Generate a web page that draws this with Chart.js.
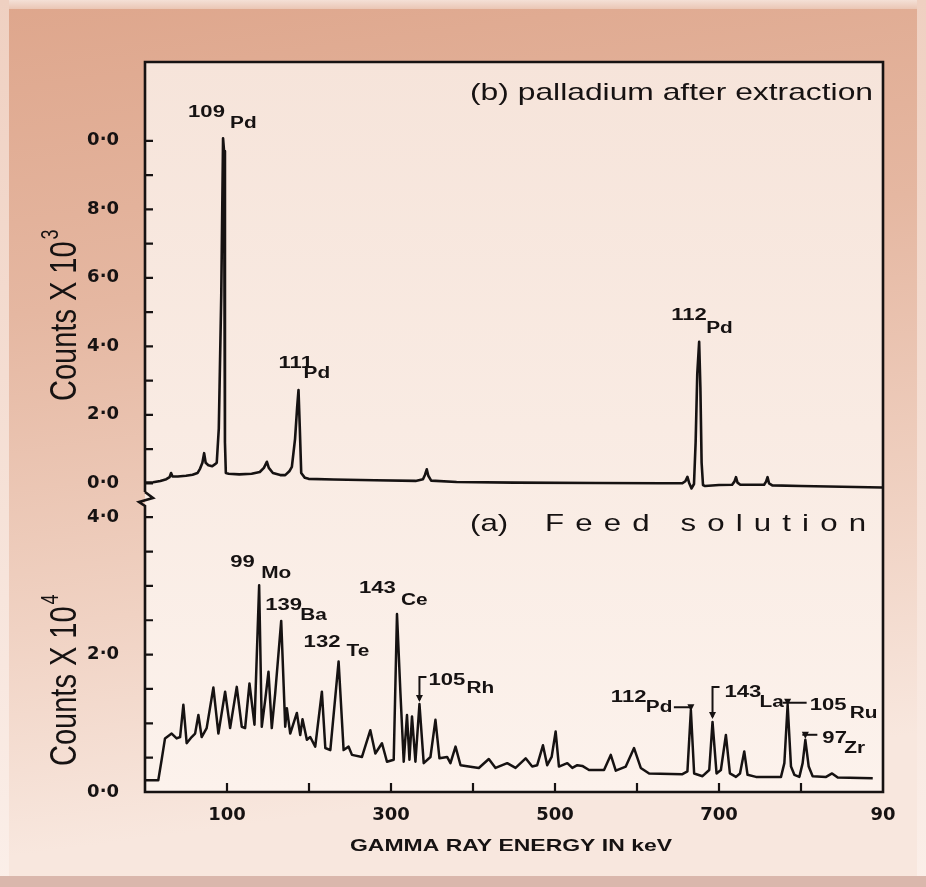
<!DOCTYPE html>
<html>
<head>
<meta charset="utf-8">
<script src="https://cdn.jsdelivr.net/npm/chart.js@4.4.1/dist/chart.umd.min.js"></script>
<style>
  html, body { margin: 0; padding: 0; background: #e8bfab; overflow: hidden; }
  #wrap { width: 926px; height: 887px; }
  canvas { display: block; }
</style>
</head>
<body>
<div id="wrap"><canvas id="c" width="926" height="887"></canvas></div>
<script>
// ---- Energy axis (keV) ----
const energyTickValues = [100, 300, 500, 700, 900];
const energyTickLabels = ['100', '300', '500', '700', '90'];
const energyMarkValues = [100, 200, 300, 400, 500, 600, 700, 800];

// ---- Count axes ----
const pdTickValues = [0, 2, 4, 6, 8, 10];
const pdTickLabels = ['0·0', '2·0', '4·0', '6·0', '8·0', '0·0'];
const pdMarkValues = [0, 1, 2, 3, 4, 5, 6, 7, 8, 9, 10];

const feedTickValues = [0, 2, 4];
const feedTickLabels = ['0·0', '2·0', '4·0'];
const feedMarkValues = [0, 0.5, 1, 1.5, 2, 2.5, 3, 3.5, 4];

// ---- (b) palladium after extraction: counts x 10^3 ----
const pdEnergy = [
  0, 10, 18.7, 26, 30, 31.8, 33.5, 40, 50, 58, 64, 67.2, 70, 72.1, 74, 77.3, 82, 85.5,
  87.5, 90, 93, 95.2, 96.4, 97.5, 98.6, 102, 115, 130, 140, 145, 148.6, 151, 156, 165,
  171, 176, 179.1, 183, 185.5, 187.2, 188.8, 190.5, 195, 199.5, 230, 280, 330, 339,
  341.5, 343.6, 345.5, 349, 380, 450, 550, 630, 655, 659, 661.5, 663.5, 666.5, 669.5,
  671.5, 673.5, 675.8, 677.3, 678.8, 680.5, 683, 700, 716, 718.8, 720.7, 722.6, 726,
  755, 757.4, 759.2, 761, 765, 800, 850, 899
];
const pdCounts = [
  0.02, 0.03, 0.07, 0.12, 0.18, 0.30, 0.20, 0.20, 0.22, 0.25, 0.30, 0.43, 0.60, 0.88, 0.60, 0.53, 0.50, 0.56,
  0.60, 1.6, 5.5, 10.07, 9.7, 1.2, 0.30, 0.28, 0.26, 0.28, 0.33, 0.45, 0.63, 0.45, 0.30, 0.24,
  0.24, 0.35, 0.48, 1.3, 2.2, 2.72, 1.6, 0.30, 0.16, 0.13, 0.11, 0.09, 0.07, 0.12,
  0.25, 0.41, 0.22, 0.08, 0.04, 0.02, 0.01, 0.0, 0.0, 0.06, 0.19, 0.02, -0.15, -0.02,
  1.2, 3.2, 4.13, 2.8, 0.6, -0.05, -0.08, -0.05, -0.04, 0.05, 0.18, 0.02, -0.04,
  -0.04, 0.05, 0.18, 0.0, -0.06, -0.08, -0.10, -0.12
];

// ---- (a) feed solution: counts x 10^4 ----
const feedEnergy = [
  0, 16.2, 20.3, 24.4, 32.5, 38.6, 42.8, 46.8, 50.8, 56.9, 61.1, 65.1, 69.1, 75.2, 83.4,
  89.5, 97.7, 103.8, 111.9, 118.0, 122.1, 127.4, 133.5, 139.2, 142.4, 146.6, 150.6, 154.6,
  158.8, 166.1, 171.0, 173.0, 177.1, 185.2, 189.3, 192.1, 197.4, 201.5, 207.6, 215.7,
  219.9, 226.0, 236.1, 242.2, 248.3, 252.4, 264.6, 274.8, 280.9, 289.0, 295.1, 303.3,
  307.3, 311.5, 315.5, 319.5, 322.5, 325.6, 329.8, 334.7, 339.9, 348.1, 354.2, 359.1,
  368.4, 372.5, 378.7, 384.8, 407.1, 419.3, 427.5, 441.7, 451.9, 464.2, 472.2, 478.3,
  485.3, 490.5, 495.9, 500.8, 504.8, 515.0, 521.1, 527.2, 533.3, 541.5, 559.8, 568.0,
  574.1, 586.3, 596.4, 604.6, 614.8, 655.4, 661.5, 665.7, 669.7, 679.9, 688.1, 692.1,
  697.0, 702.3, 708.4, 713.3, 720.7, 725.6, 730.8, 734.8, 745.1, 775.6, 779.7, 783.7,
  787.8, 791.9, 798.0, 802.0, 805.3, 809.4, 814.2, 830.6, 837.9, 844.8, 887.5
];
const feedCounts = [
  0.17, 0.17, 0.47, 0.78, 0.85, 0.78, 0.80, 1.27, 0.71, 0.80, 0.85, 1.12, 0.80, 0.93, 1.52,
  0.85, 1.46, 0.93, 1.53, 0.95, 0.93, 1.58, 0.98, 3.01, 0.95, 1.34, 1.75, 0.93,
  1.44, 2.49, 0.95, 1.22, 0.85, 1.15, 0.83, 1.06, 0.76, 0.80, 0.66, 1.46,
  0.64, 0.61, 1.90, 0.61, 0.66, 0.54, 0.51, 0.90, 0.56, 0.71, 0.44, 0.47,
  2.59, 1.44, 0.44, 1.12, 0.47, 1.10, 0.44, 1.28, 0.42, 0.51, 1.05, 0.49,
  0.51, 0.42, 0.66, 0.39, 0.35, 0.48, 0.35, 0.42, 0.35, 0.49, 0.37, 0.39,
  0.68, 0.39, 0.51, 0.88, 0.37, 0.42, 0.35, 0.39, 0.38, 0.32, 0.32, 0.54,
  0.31, 0.37, 0.64, 0.35, 0.27, 0.26, 0.30, 1.19, 0.27, 0.23, 0.32, 1.02,
  0.27, 0.32, 0.83, 0.27, 0.22, 0.27, 0.59, 0.25, 0.22, 0.22, 0.42, 1.27,
  0.37, 0.25, 0.22, 0.42, 0.76, 0.37, 0.23, 0.22, 0.27, 0.21, 0.20
];

// ---- Identified peaks ----
const peakLabels = [
  { series: 'pd',   energy: 95.2,  mass: '109', element: 'Pd' },
  { series: 'pd',   energy: 187.2, mass: '111', element: 'Pd' },
  { series: 'pd',   energy: 675.8, mass: '112', element: 'Pd' },
  { series: 'feed', energy: 139.2, mass: '99',  element: 'Mo' },
  { series: 'feed', energy: 166.1, mass: '139', element: 'Ba' },
  { series: 'feed', energy: 236.1, mass: '132', element: 'Te' },
  { series: 'feed', energy: 307.3, mass: '143', element: 'Ce' },
  { series: 'feed', energy: 334.7, mass: '105', element: 'Rh' },
  { series: 'feed', energy: 665.7, mass: '112', element: 'Pd' },
  { series: 'feed', energy: 692.1, mass: '143', element: 'La' },
  { series: 'feed', energy: 783.7, mass: '105', element: 'Ru' },
  { series: 'feed', energy: 805.3, mass: '97',  element: 'Zr' }
];

// Label placement relative to each peak top (px): mass number, element symbol,
// optional leader line and arrow tip.
const labelPlacement = [
  { mass: [-35, -21], el: [7, -10] },
  { mass: [-20, -22], el: [5, -12] },
  { mass: [-28, -22], el: [7, -9] },
  { mass: [-29, -18], el: [2, -7] },
  { mass: [-16, -11], el: [19, -1] },
  { mass: [-35, -14], el: [8, -5] },
  { mass: [-38, -21], el: [4, -9] },
  { mass: [9, -19],  el: [47, -11], leader: [[7, -27], [0, -27], [0, -4]], arrow: [0, -2] },
  { mass: [-80, -8], el: [-45, 2],  leader: [[-17, -3], [0, -3], [0, 0]], arrow: [0, 1] },
  { mass: [12, -25], el: [47, -15], leader: [[7, -35], [0, -35], [0, -5]], arrow: [0, -3] },
  { mass: [22, 5],   el: [62, 13],  leader: [[-5, -2], [19, -2]], arrow: [0, 1] },
  { mass: [17, 3],   el: [39, 13],  leader: [[-3, -5], [12, -5]], arrow: [0, -1] }
];

const INK = '#161212';
const STRETCH = 1.3;

function seriesValue(series, e) {
  const E = series === 'pd' ? pdEnergy : feedEnergy;
  const C = series === 'pd' ? pdCounts : feedCounts;
  return C[E.indexOf(e)];
}

function stretchedText(ctx, text, x, y, font, sx, align) {
  ctx.save();
  ctx.font = font;
  ctx.textAlign = 'left';
  ctx.textBaseline = 'alphabetic';
  const w = ctx.measureText(text).width * sx;
  const x0 = align === 'right' ? x - w : (align === 'center' ? x - w / 2 : x);
  ctx.translate(x0, y);
  ctx.scale(sx, 1);
  ctx.fillText(text, 0, 0);
  ctx.restore();
  return w;
}

// Text squeezed or stretched horizontally to fill [x0, x1]
function fittedText(ctx, text, x0, x1, y, font) {
  ctx.save();
  ctx.font = font;
  const sx = (x1 - x0) / ctx.measureText(text).width;
  ctx.restore();
  return stretchedText(ctx, text, x0, y, font, sx, 'left');
}

function spreadText(ctx, text, x0, x1, y, font, sx) {
  ctx.save();
  ctx.font = font;
  ctx.textAlign = 'left';
  ctx.textBaseline = 'alphabetic';
  const chars = [...text];
  const widths = chars.map(c => ctx.measureText(c).width * sx);
  const total = widths.reduce((a, b) => a + b, 0);
  const gap = (x1 - x0 - total) / (chars.length - 1);
  let x = x0;
  chars.forEach((c, i) => {
    ctx.save();
    ctx.translate(x, y);
    ctx.scale(sx, 1);
    ctx.fillText(c, 0, 0);
    ctx.restore();
    x += widths[i] + gap;
  });
  ctx.restore();
}

function verticalTitle(ctx, text, sup, bx, by, size, sx) {
  ctx.save();
  ctx.translate(bx, by);
  ctx.scale(sx, 1);
  ctx.rotate(-Math.PI / 2);
  ctx.textAlign = 'left';
  ctx.textBaseline = 'alphabetic';
  ctx.font = size + 'px "Liberation Sans", Arial, sans-serif';
  ctx.fillText(text, 0, 0);
  const w = ctx.measureText(text).width;
  ctx.font = Math.round(size * 0.62) + 'px "Liberation Sans", Arial, sans-serif';
  ctx.fillText(sup, w + 2, -size * 0.48);
  ctx.restore();
}

function arrowDown(ctx, x, y) {
  ctx.beginPath();
  ctx.moveTo(x, y);
  ctx.lineTo(x - 3.5, y - 7);
  ctx.lineTo(x + 3.5, y - 7);
  ctx.closePath();
  ctx.fill();
}

const paperPlugin = {
  id: 'paper',
  beforeDraw(chart) {
    const { ctx, width, height, chartArea: a } = chart;
    ctx.save();
    let g = ctx.createLinearGradient(0, 0, 120, height);
    g.addColorStop(0, '#dea68c');
    g.addColorStop(0.35, '#e5b7a1');
    g.addColorStop(0.7, '#f0d2c3');
    g.addColorStop(0.95, '#f8e7de');
    ctx.fillStyle = g;
    ctx.fillRect(0, 0, width, height);

    // bevelled frame edges
    g = ctx.createLinearGradient(0, 0, 0, 10);
    g.addColorStop(0, '#f4e0d6');
    g.addColorStop(1, '#e9c3b1');
    ctx.fillStyle = g;
    ctx.fillRect(0, 0, width, 9);
    g = ctx.createLinearGradient(0, 0, 0, height);
    g.addColorStop(0, '#efd0c1');
    g.addColorStop(1, '#fbefe9');
    ctx.fillStyle = g;
    ctx.fillRect(0, 0, 9, height);
    ctx.fillRect(width - 9, 0, 9, height);
    ctx.fillStyle = '#dab7ac';
    ctx.fillRect(0, height - 11, width, 11);

    // plotting field
    g = ctx.createLinearGradient(0, a.top, 0, a.bottom);
    g.addColorStop(0, '#f6e4da');
    g.addColorStop(1, '#fcf2ec');
    ctx.fillStyle = g;
    ctx.fillRect(a.left, a.top, a.right - a.left, a.bottom - a.top);
    ctx.restore();
  },
  afterDraw(chart) {
    const { ctx, chartArea: a, scales } = chart;
    const L = a.left, R = a.right, T = a.top, B = a.bottom;
    const brk = scales.yFeed.top;
    ctx.save();
    ctx.strokeStyle = INK;
    ctx.fillStyle = INK;
    ctx.lineWidth = 2.6;
    ctx.lineJoin = 'miter';

    // box with axis break on the left side
    ctx.beginPath();
    ctx.moveTo(L, brk - 8);
    ctx.lineTo(L, T);
    ctx.lineTo(R, T);
    ctx.lineTo(R, B);
    ctx.lineTo(L, B);
    ctx.lineTo(L, brk + 6);
    ctx.lineTo(L - 6, brk + 2);
    ctx.lineTo(L + 8, brk - 2);
    ctx.lineTo(L, brk - 8);
    ctx.stroke();

    // inward tick marks
    ctx.lineWidth = 2.2;
    ctx.beginPath();
    pdMarkValues.forEach(v => {
      const y = scales.yTop.getPixelForValue(v);
      ctx.moveTo(L, y); ctx.lineTo(L + 8, y);
    });
    feedMarkValues.forEach(v => {
      const y = scales.yFeed.getPixelForValue(v);
      ctx.moveTo(L, y); ctx.lineTo(L + 8, y);
    });
    energyMarkValues.forEach(v => {
      const x = scales.x.getPixelForValue(v);
      ctx.moveTo(x, B); ctx.lineTo(x, B - 9);
    });
    ctx.stroke();

    // axis titles
    const sans = '"Liberation Sans", Arial, sans-serif';
    fittedText(ctx, 'GAMMA RAY ENERGY IN keV', 350, 672, 851, 'bold 17px ' + sans);
    verticalTitle(ctx, 'Counts X 10', '3', 76, 401, 29, STRETCH);
    verticalTitle(ctx, 'Counts X 10', '4', 76, 766, 29, STRETCH);

    // panel captions
    fittedText(ctx, '(b) palladium after extraction', 470, 873, 100, '24px ' + sans);
    stretchedText(ctx, '(a)', 470, 531, '24px ' + sans, STRETCH, 'left');
    spreadText(ctx, 'Feed solution', 545, 866, 531, '24px ' + sans, STRETCH);

    // peak identifications
    ctx.lineWidth = 2;
    peakLabels.forEach((p, i) => {
      const place = labelPlacement[i];
      const yScale = p.series === 'pd' ? scales.yTop : scales.yFeed;
      const px = scales.x.getPixelForValue(p.energy);
      const py = yScale.getPixelForValue(seriesValue(p.series, p.energy));
      stretchedText(ctx, p.mass, px + place.mass[0], py + place.mass[1], 'bold 17px ' + sans, STRETCH, 'left');
      stretchedText(ctx, p.element, px + place.el[0], py + place.el[1], 'bold 16px ' + sans, STRETCH, 'left');
      if (place.leader) {
        ctx.beginPath();
        place.leader.forEach(([dx, dy], k) => {
          if (k === 0) ctx.moveTo(px + dx, py + dy); else ctx.lineTo(px + dx, py + dy);
        });
        ctx.stroke();
      }
      if (place.arrow) arrowDown(ctx, px + place.arrow[0], py + place.arrow[1]);
    });
    ctx.restore();
  }
};

const tickFont = { family: '"DejaVu Sans", sans-serif', size: 18, weight: 'bold' };

new Chart(document.getElementById('c'), {
  type: 'line',
  data: {
    datasets: [
      {
        label: 'palladium after extraction',
        data: pdEnergy.map((e, i) => ({ x: e, y: pdCounts[i] })),
        yAxisID: 'yTop',
        borderColor: INK,
        borderWidth: 2.6,
        pointRadius: 0,
        tension: 0,
        borderJoinStyle: 'round',
        fill: false
      },
      {
        label: 'Feed solution',
        data: feedEnergy.map((e, i) => ({ x: e, y: feedCounts[i] })),
        yAxisID: 'yFeed',
        borderColor: INK,
        borderWidth: 2.5,
        pointRadius: 0,
        tension: 0,
        borderJoinStyle: 'round',
        fill: false
      }
    ]
  },
  options: {
    responsive: false,
    animation: false,
    devicePixelRatio: 1,
    layout: { padding: { top: 62, right: 43, bottom: 0, left: 0 } },
    plugins: { legend: { display: false }, tooltip: { enabled: false } },
    scales: {
      x: {
        type: 'linear',
        min: 0,
        max: 900,
        afterFit(s) { s.height = 95; },
        afterBuildTicks(s) { s.ticks = energyTickValues.map(v => ({ value: v })); },
        grid: { display: false, drawTicks: false },
        border: { display: false },
        ticks: {
          padding: 13,
          autoSkip: false,
          maxRotation: 0,
          color: INK,
          font: tickFont,
          callback: v => { const i = energyTickValues.indexOf(v); return i >= 0 ? energyTickLabels[i] : ''; }
        }
      },
      yTop: {
        type: 'linear',
        position: 'left',
        stack: 'counts',
        stackWeight: 3,
        weight: 1,
        min: -0.487,
        max: 12.3,
        afterFit(s) { s.width = 145; },
        afterBuildTicks(s) { s.ticks = pdTickValues.map(v => ({ value: v })); },
        grid: { display: false, drawTicks: false },
        border: { display: false },
        ticks: {
          padding: 26,
          autoSkip: false,
          color: INK,
          font: tickFont,
          callback: v => { const i = pdTickValues.indexOf(v); return i >= 0 ? pdTickLabels[i] : ''; }
        }
      },
      yFeed: {
        type: 'linear',
        position: 'left',
        stack: 'counts',
        stackWeight: 2,
        weight: 0,
        min: 0,
        max: 4.25,
        afterFit(s) { s.width = 145; },
        afterBuildTicks(s) { s.ticks = feedTickValues.map(v => ({ value: v })); },
        grid: { display: false, drawTicks: false },
        border: { display: false },
        ticks: {
          padding: 26,
          autoSkip: false,
          color: INK,
          font: tickFont,
          callback: v => { const i = feedTickValues.indexOf(v); return i >= 0 ? feedTickLabels[i] : ''; }
        }
      }
    }
  },
  plugins: [paperPlugin]
});
</script>
</body>
</html>
